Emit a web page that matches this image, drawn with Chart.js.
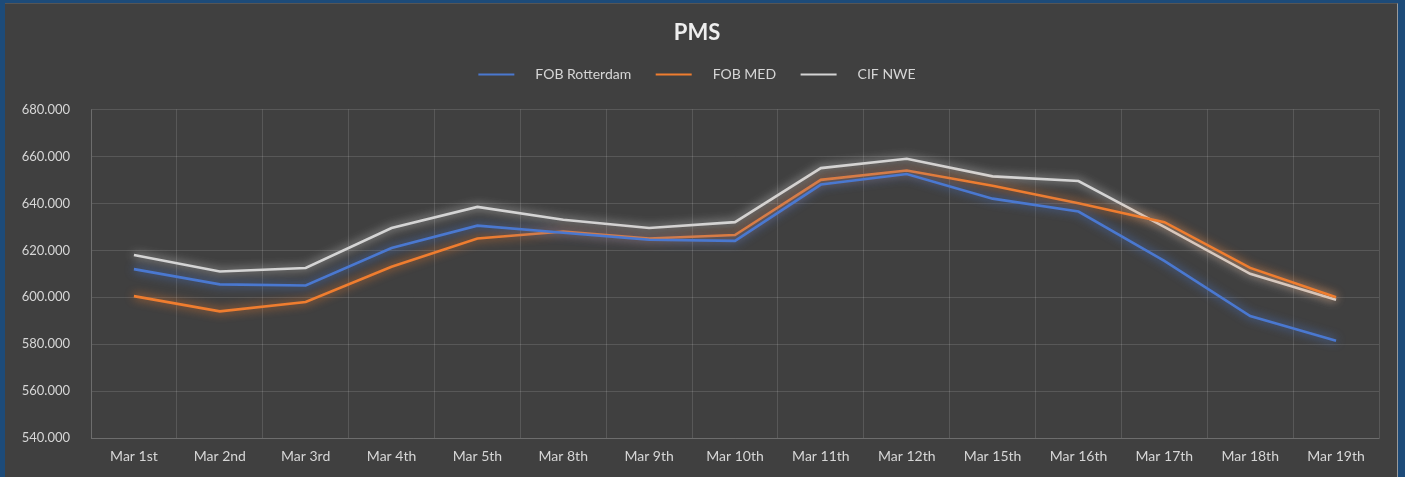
<!DOCTYPE html>
<html>
<head>
<meta charset="utf-8">
<script src="https://cdn.jsdelivr.net/npm/chart.js@4.4.1/dist/chart.umd.min.js"></script>
<style>
  html, body { margin: 0; padding: 0; background: #1d4b79; }
  .panel {
    position: absolute; left: 5px; top: 3px; width: 1392px; height: 474px;
    background: #404040; border-right: 1px solid #9a9a9a; border-top: 1px solid #555;
  }
  .panel canvas { display: block; }
</style>
</head>
<body>
<div class="panel"><canvas id="chart_pms" width="1392" height="474"></canvas></div>
<script>
// categories + series
var days = ["Mar 1st", "Mar 2nd", "Mar 3rd", "Mar 4th", "Mar 5th", "Mar 8th", "Mar 9th", "Mar 10th",
    "Mar 11th", "Mar 12th", "Mar 15th", "Mar 16th", "Mar 17th", "Mar 18th", "Mar 19th"]
var fobRotterdam = [612, 605.5, 605, 621, 630.5, 627.5, 624.5, 624, 648, 652.5, 642, 636.5, 615.5, 592, 581.5]
var fobMed = [600.5, 594, 598, 613, 625, 628, 625, 626.5, 650, 654, 647.5, 640, 632, 612.5, 600]
var cifNwe = [618, 611, 612.5, 629.5, 638.5, 633, 629.5, 632, 655, 659, 651.5, 649.5, 630, 610, 599]
var yTicks = [540, 560, 580, 600, 620, 640, 660, 680]

var FONT = "Lato, 'Open Sans', sans-serif"
var TEXT = "#d6d6d6"
var GRID = "rgba(255,255,255,0.13)"

// soft glow round each line, like the excel effect
var glowPlugin = {
    id: "glow",
    beforeDatasetDraw: function (chart, args) {
        var ctx = chart.ctx
        ctx.save()
        ctx.shadowColor = args.meta.dataset.options.borderColor
        ctx.shadowBlur = 10
    },
    afterDatasetDraw: function (chart) {
        chart.ctx.restore()
    }
}

// extra room under the legend
var legendGap = {
    id: "legendGap",
    beforeInit: function (chart) {
        var fit = chart.legend.fit
        chart.legend.fit = function () {
            fit.bind(chart.legend)()
            this.height += 18
        }
    }
}

function makeSet(label, data, color) {
    return {
        label: label,
        data: data,
        borderColor: color,
        backgroundColor: color,
        borderWidth: 2.6,
        pointRadius: 0,
        tension: 0,
        fill: false
    }
}

var config_pms = {
    type: "line",
    data: {
        labels: days,
        datasets: [
            makeSet("FOB Rotterdam", fobRotterdam, "#4a78d0"),
            makeSet("FOB MED", fobMed, "#ef7d2f"),
            makeSet("CIF NWE", cifNwe, "#d4d4d4")
        ]
    },
    options: {
        responsive: false,
        animation: false,
        layout: { padding: { left: 10, right: 18, top: 0, bottom: 3 } },
        plugins: {
            title: {
                display: true,
                text: "PMS",
                color: "#eeeeee",
                font: { family: FONT, size: 22, weight: "bold" },
                padding: { top: 16, bottom: 7 }
            },
            legend: {
                display: true,
                labels: {
                    color: TEXT,
                    font: { family: FONT, size: 14 },
                    boxWidth: 36,
                    boxHeight: 2,
                    padding: 14,
                    generateLabels: function (chart) {
                        var items = Chart.defaults.plugins.legend.labels.generateLabels(chart)
                        items.forEach(function (it, i) {
                            it.text = "\u2002\u2002" + it.text + (i < items.length - 1 ? "\u2003" : "")
                            it.lineWidth = 0
                        })
                        return items
                    }
                }
            },
            tooltip: { enabled: false }
        },
        scales: {
            x: {
                offset: true,
                grid: { color: GRID, offset: true, drawTicks: false },
                border: { color: GRID },
                ticks: { color: TEXT, font: { family: FONT, size: 14 }, padding: 10, maxRotation: 0 }
            },
            y: {
                min: yTicks[0],
                max: yTicks[yTicks.length - 1],
                afterBuildTicks: function (scale) {
                    scale.ticks = yTicks.map(function (v) { return { value: v } })
                },
                afterFit: function (scale) { scale.width = 76 },
                grid: { color: GRID, drawTicks: false },
                border: { color: GRID },
                ticks: {
                    color: TEXT,
                    font: { family: FONT, size: 13 },
                    padding: 21,
                    callback: function (v) { return v.toFixed(3) }
                }
            }
        }
    },
    plugins: [glowPlugin, legendGap]
}

var CHART_PMS = new Chart(document.getElementById("chart_pms"), config_pms)
</script>
</body>
</html>
